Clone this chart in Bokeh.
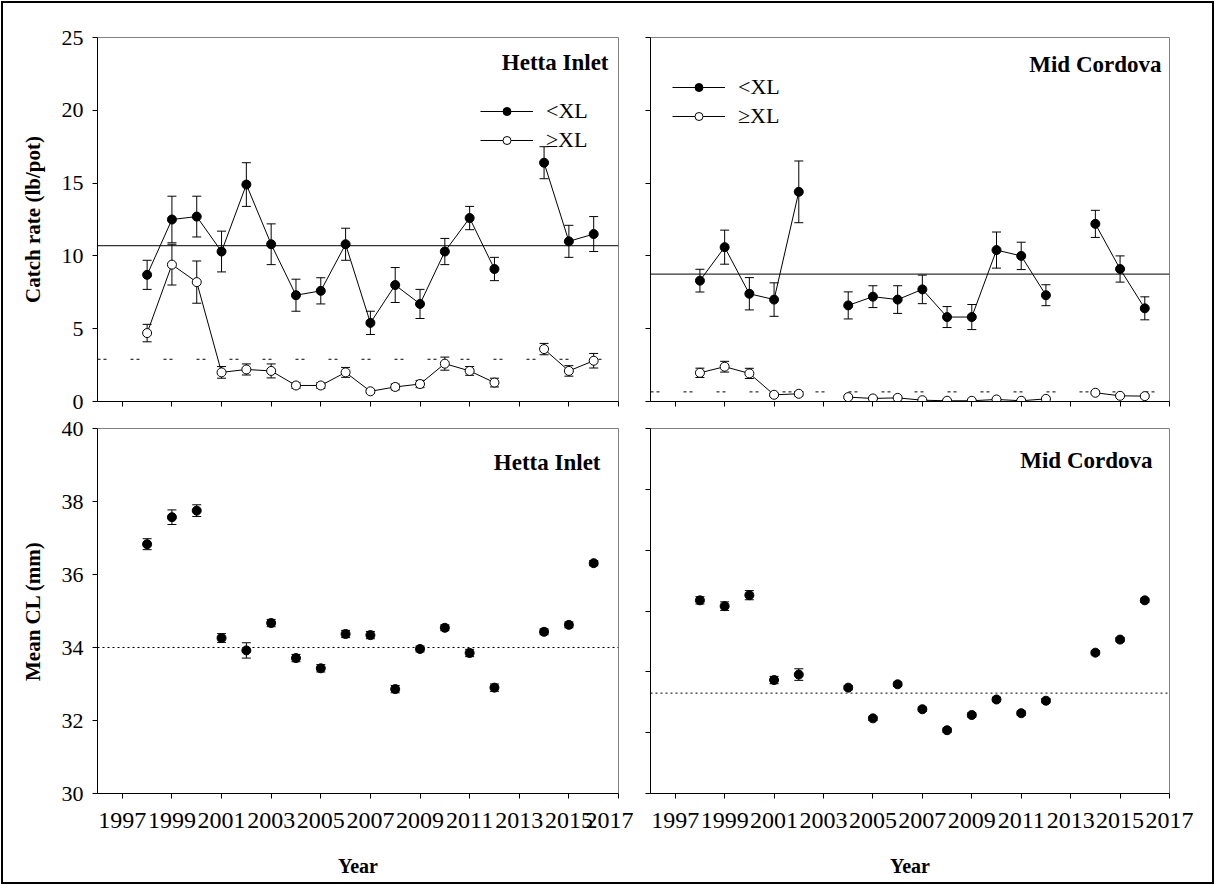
import numpy as np
from bokeh.plotting import figure
from bokeh.models import (ColumnDataSource, Whisker, TeeHead, Span, Label,
                          Legend, LegendItem, FixedTicker)
from bokeh.layouts import column, row
from bokeh.embed import file_html
from bokeh.resources import INLINE

FONT = "Liberation Serif"

years = list(range(1998, 2017))
year_ticks = list(range(1997, 2018, 2))

# Catch rate (lb/pot), Hetta Inlet
hetta_small = [8.7, 12.5, 12.7, 10.3, 14.9, 10.8, 7.3, 7.6, 10.8, 5.4, 8.0, 6.7,
               10.3, 12.6, 9.1, None, 16.4, 11.0, 11.5]
hetta_small_se = [1.0, 1.6, 1.4, 1.4, 1.5, 1.4, 1.1, 0.9, 1.1, 0.8, 1.2, 1.0,
                  0.9, 0.8, 0.8, None, 1.1, 1.1, 1.2]
hetta_large = [4.7, 9.4, 8.2, 2.0, 2.2, 2.1, 1.1, 1.1, 2.0, 0.7, 1.0, 1.2,
               2.6, 2.1, 1.3, None, 3.6, 2.1, 2.8]
hetta_large_se = [0.6, 1.4, 1.45, 0.4, 0.38, 0.48, 0.2, 0.2, 0.34, 0.12, 0.2, 0.25,
                  0.45, 0.3, 0.3, None, 0.39, 0.36, 0.5]
hetta_small_mean = 10.7
hetta_large_ref = 2.9

# Catch rate (lb/pot), Mid Cordova
mid_small = [8.3, 10.6, 7.4, 7.0, 14.4, None, 6.6, 7.2, 7.0, 7.7, 5.8, 5.8,
             10.4, 10.0, 7.3, None, 12.2, 9.1, 6.4]
mid_small_se = [0.78, 1.17, 1.11, 1.15, 2.12, None, 0.93, 0.75, 0.95, 0.98, 0.72, 0.86,
                1.24, 0.94, 0.72, None, 0.93, 0.9, 0.79]
mid_large = [1.97, 2.39, 1.93, 0.46, 0.53, None, 0.30, 0.21, 0.25, 0.09, 0.05, 0.05,
             0.14, 0.05, 0.18, None, 0.6, 0.39, 0.37]
mid_large_se = [0.32, 0.37, 0.35, 0.1, 0.15, None, 0.08, 0.05, 0.06, 0.05, 0.04, 0.04,
                0.05, 0.04, 0.05, None, 0.1, 0.07, 0.07]
mid_small_mean = 8.75
mid_large_ref = 0.66

# Mean carapace length (mm)
hetta_cl = [36.83, 37.57, 37.75, 34.26, 33.92, 34.67, 33.71, 33.43, 34.37, 34.34, 32.86, 33.96,
            34.54, 33.85, 32.90, None, 34.43, 34.62, 36.31]
hetta_cl_se = [0.15, 0.2, 0.16, 0.12, 0.21, 0.1, 0.1, 0.1, 0.1, 0.1, 0.1, 0.08,
               0.08, 0.1, 0.1, None, 0.08, 0.08, 0.07]
hetta_cl_mean = 34.0
mid_cl = [34.35, 34.16, 34.52, 31.73, 31.91, None, 31.48, 30.47, 31.59, 30.77, 30.08, 30.58,
          31.09, 30.64, 31.05, None, 32.63, 33.06, 34.35]
mid_cl_se = [0.12, 0.14, 0.15, 0.12, 0.19, None, 0.07, 0.07, 0.07, 0.07, 0.07, 0.07,
             0.07, 0.07, 0.07, None, 0.07, 0.07, 0.07]
mid_cl_mean = 31.3


def make_panel(width, height, left, right, top, bottom, y_range, y_ticks,
               x_labels, y_labels, x_title=None, y_title=None):
    p = figure(width=width, height=height, x_range=(1996, 2017), y_range=y_range,
               output_backend="svg", toolbar_location=None, tools="",
               min_border_left=left, min_border_right=right,
               min_border_top=top, min_border_bottom=bottom)
    p.grid.visible = False
    p.outline_line_color = "#808080"
    p.outline_line_width = 1
    p.background_fill_color = "white"
    p.border_fill_color = None
    p.xaxis.ticker = FixedTicker(ticks=year_ticks)
    p.yaxis.ticker = FixedTicker(ticks=y_ticks)
    for ax in (p.xaxis[0], p.yaxis[0]):
        ax.axis_line_color = "black"
        ax.axis_line_width = 1
        ax.major_tick_line_color = "black"
        ax.major_tick_in = 0
        ax.major_tick_out = 5
        ax.minor_tick_line_color = None
        ax.major_label_text_font = FONT
        ax.major_label_text_font_size = "22px"
        ax.major_label_text_color = "black"
        ax.axis_label_text_font = FONT
        ax.axis_label_text_font_style = "bold"
        ax.axis_label_text_font_size = "21px"
        ax.axis_label_text_color = "black"
    p.xaxis.major_label_text_font_size = "24px"
    p.xaxis.axis_label_text_font_size = "20px"
    p.xaxis.major_label_standoff = 14
    p.yaxis.major_label_standoff = 9
    if not x_labels:
        p.xaxis.major_label_overrides = {t: "" for t in year_ticks}
    if not y_labels:
        p.yaxis.major_label_overrides = {t: "" for t in y_ticks}
    if x_title:
        p.xaxis.axis_label = x_title
        p.xaxis.axis_label_standoff = 24
    if y_title:
        p.yaxis.axis_label = y_title
        p.yaxis.axis_label_standoff = 14
    return p


def add_series(p, values, se, filled, connect):
    xs = [x for x, v in zip(years, values) if v is not None]
    ys = [v for v in values if v is not None]
    es = [e for e in se if e is not None]
    src = ColumnDataSource(dict(x=xs, y=ys,
                                upper=[y + e for y, e in zip(ys, es)],
                                lower=[y - e for y, e in zip(ys, es)]))
    line_r = None
    if connect:
        line_y = [np.nan if v is None else v for v in values]
        line_r = p.line(years, line_y, line_color="black", line_width=1)
    whisker = Whisker(source=src, base="x", upper="upper", lower="lower",
                      line_color="black", line_width=1, level="underlay",
                      upper_head=TeeHead(size=9, line_color="black", line_width=1),
                      lower_head=TeeHead(size=9, line_color="black", line_width=1))
    p.add_layout(whisker)
    pts = p.scatter("x", "y", source=src, marker="circle", size=9,
                    fill_color="black" if filled else "white",
                    line_color="black", line_width=1)
    return line_r, pts


def add_title(p, text, x_off, y_off):
    p.add_layout(Label(x=p.x_range.end, y=p.y_range.end, x_offset=x_off, y_offset=y_off,
                       text=text, text_align="right", text_baseline="middle",
                       text_font=FONT, text_font_style="bold", text_font_size="23px",
                       text_color="black"))


def add_legend(p, small_r, large_r, loc):
    legend = Legend(items=[LegendItem(label="<XL", renderers=list(small_r)),
                           LegendItem(label="\u2265XL", renderers=list(large_r))],
                    location=loc, glyph_width=53, glyph_height=20, label_height=20,
                    spacing=3, padding=0, margin=0, label_standoff=13,
                    label_text_font=FONT, label_text_font_size="22px",
                    label_text_color="black",
                    border_line_color=None, background_fill_alpha=0)
    p.add_layout(legend)


# Top row: catch rates
p1 = make_panel(633, 415, 97, 15, 37, 14, (0, 25), [0, 5, 10, 15, 20, 25],
                x_labels=False, y_labels=True, y_title="Catch rate (lb/pot)")
p1.add_layout(Span(location=hetta_small_mean, dimension="width", line_color="black",
                   line_width=1, level="underlay"))
p1.add_layout(Span(location=hetta_large_ref, dimension="width", line_color="black",
                   line_width=1, line_dash="3 3 3 24", level="underlay"))
s1 = add_series(p1, hetta_small, hetta_small_se, True, True)
l1 = add_series(p1, hetta_large, hetta_large_se, False, True)
add_title(p1, "Hetta Inlet", -10, -24.5)
add_legend(p1, s1, l1, (383, 248))

p2 = make_panel(582, 415, 17, 46, 37, 14, (0, 25), [0, 5, 10, 15, 20, 25],
                x_labels=False, y_labels=False)
p2.add_layout(Span(location=mid_small_mean, dimension="width", line_color="black",
                   line_width=1, level="underlay"))
p2.add_layout(Span(location=mid_large_ref, dimension="width", line_color="black",
                   line_width=1, line_dash="3 3 3 24", level="underlay"))
s2 = add_series(p2, mid_small, mid_small_se, True, True)
l2 = add_series(p2, mid_large, mid_large_se, False, True)
add_title(p2, "Mid Cordova", -8, -27)
add_legend(p2, s2, l2, (22, 272))

# Bottom row: mean carapace length
p3 = make_panel(633, 470, 97, 15, 13, 92, (30, 40), [30, 32, 34, 36, 38, 40],
                x_labels=True, y_labels=True, x_title="Year", y_title="Mean CL (mm)")
p3.add_layout(Span(location=hetta_cl_mean, dimension="width", line_color="black",
                   line_width=1, line_dash="2 3", level="underlay"))
add_series(p3, hetta_cl, hetta_cl_se, True, False)
add_title(p3, "Hetta Inlet", -18, -33.5)

p4 = make_panel(582, 470, 17, 46, 13, 92, (28, 40), [28, 30, 32, 34, 36, 38, 40],
                x_labels=True, y_labels=False, x_title="Year")
p4.add_layout(Span(location=mid_cl_mean, dimension="width", line_color="black",
                   line_width=1, line_dash="2 3", level="underlay"))
add_series(p4, mid_cl, mid_cl_se, True, False)
add_title(p4, "Mid Cordova", -17, -32)

layout = column(row(p1, p2), row(p3, p4),
                styles={"outline": "2px solid black", "outline-offset": "-3px",
                        "background-color": "white"})

open("out.html", "w").write(file_html(layout, INLINE))
